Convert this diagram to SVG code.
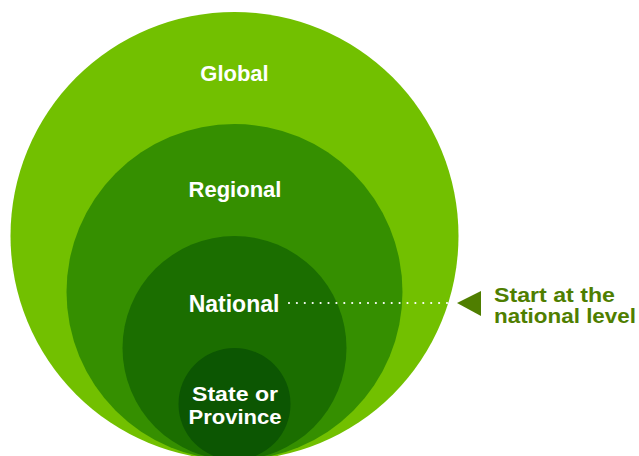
<svg xmlns="http://www.w3.org/2000/svg" width="639" height="456" viewBox="0 0 639 456">
<style>
.lbl{font-family:"Liberation Sans",Arial,sans-serif;font-weight:bold;fill:#ffffff;text-anchor:middle}
.note{font-family:"Liberation Sans",Arial,sans-serif;font-weight:bold;fill:#4f7e00;font-size:20px}
</style>
<rect width="639" height="456" fill="#ffffff"/>
<g id="global">
<circle cx="234.5" cy="236" r="224" fill="#72c000"/>
<text class="lbl" x="234.5" y="81" font-size="22">Global</text>
</g>
<g id="regional">
<circle cx="234.5" cy="292" r="168" fill="#358f00"/>
<text class="lbl" x="235" y="197" font-size="22">Regional</text>
</g>
<g id="national">
<circle cx="234.5" cy="348" r="112" fill="#1b6e00"/>
<text class="lbl" x="234" y="312" font-size="23">National</text>
</g>
<g id="state">
<circle cx="234.5" cy="404" r="56" fill="#0c5602"/>
<text class="lbl" x="235" y="400.5" font-size="20.5" textLength="86" lengthAdjust="spacingAndGlyphs">State or</text>
<text class="lbl" x="235" y="424" font-size="20.5" textLength="93" lengthAdjust="spacingAndGlyphs">Province</text>
</g>
<g id="connectors">
<line x1="289" y1="303" x2="448" y2="303" stroke="#ffffff" stroke-width="2.2" stroke-linecap="round" stroke-dasharray="0 7.9"/>
<polygon points="457,303 481,291 481,316" fill="#4f7e00"/>
</g>
<g id="callout">
<text class="note" x="494" y="302" textLength="121" lengthAdjust="spacingAndGlyphs">Start at the</text>
<text class="note" x="494" y="323" textLength="142" lengthAdjust="spacingAndGlyphs">national level</text>
</g>
</svg>
